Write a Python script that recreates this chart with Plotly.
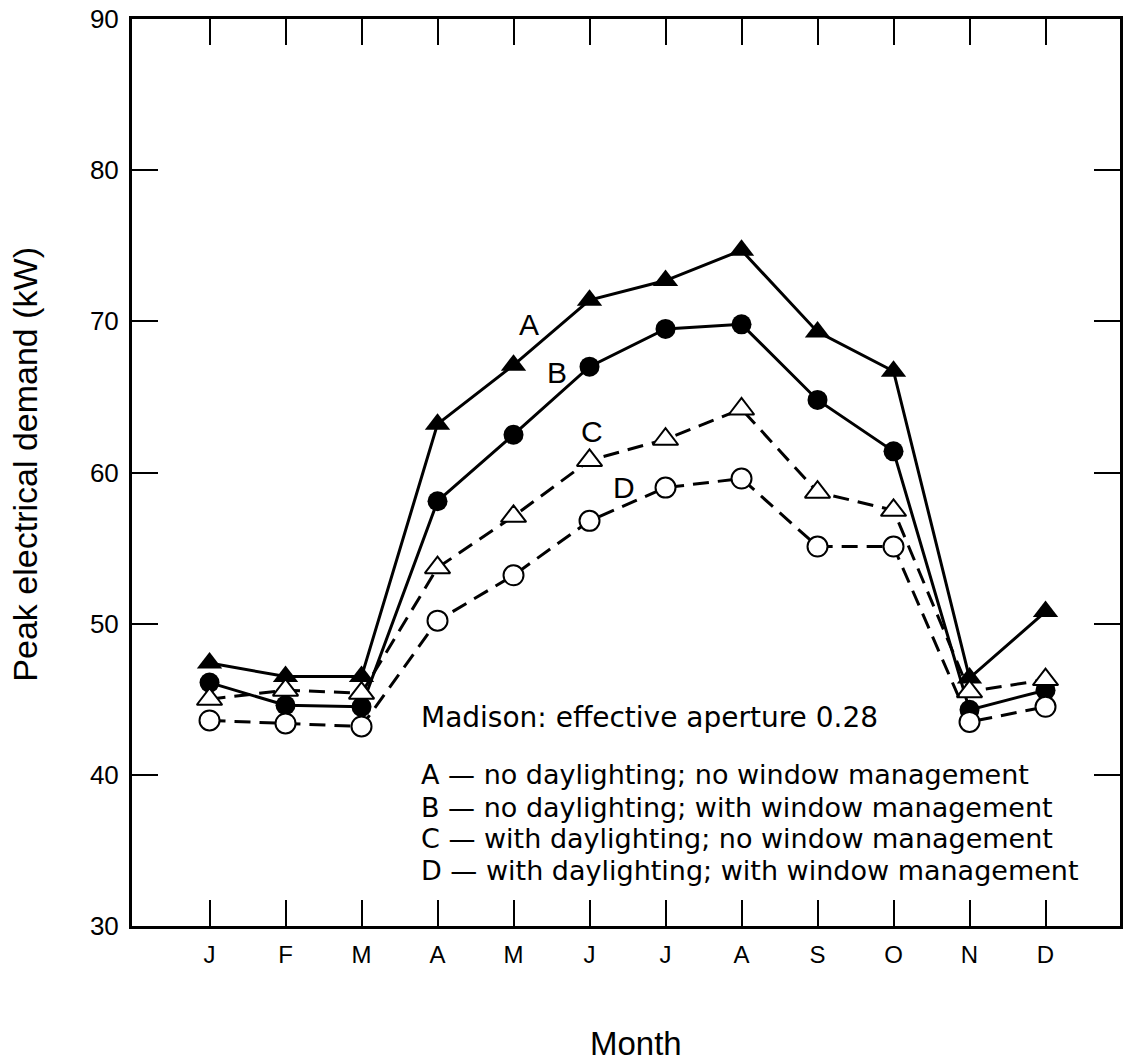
import plotly.graph_objects as go

# Monthly peak electrical demand (kW) for four building-control cases
months = ["J", "F", "M", "A", "M", "J", "J", "A", "S", "O", "N", "D"]
month_pos = list(range(1, 13))

case_a = [47.4, 46.5, 46.5, 63.2, 67.1, 71.4, 72.7, 74.7, 69.3, 66.7, 46.4, 50.8]
case_b = [46.1, 44.6, 44.5, 58.1, 62.5, 67.0, 69.5, 69.8, 64.8, 61.4, 44.3, 45.6]
case_c = [45.0, 45.6, 45.4, 53.7, 57.1, 60.8, 62.2, 64.2, 58.7, 57.5, 45.5, 46.3]
case_d = [43.6, 43.4, 43.2, 50.2, 53.2, 56.8, 59.0, 59.6, 55.1, 55.1, 43.5, 44.5]

y_ticks = [30, 40, 50, 60, 70, 80, 90]

case_keys = ["A", "B", "C", "D"]
case_desc = [
    "no daylighting; no window management",
    "no daylighting; with window management",
    "with daylighting; no window management",
    "with daylighting; with window management",
]

FONT = "Liberation Sans, Arial, Helvetica, sans-serif"
KEY_FONT = "DejaVu Sans, Liberation Sans, Arial, sans-serif"
INK = "black"

fig = go.Figure()

styles = [
    (case_a, "solid", dict(symbol="triangle-up", size=22, color=INK)),
    (case_b, "solid", dict(symbol="circle", size=20, color=INK)),
    (case_c, "16px,9px", dict(symbol="triangle-up", size=22, color="white",
                              line=dict(color=INK, width=2))),
    (case_d, "16px,9px", dict(symbol="circle", size=20, color="white",
                              line=dict(color=INK, width=2))),
]
for key, (vals, dash, marker) in zip(case_keys, styles):
    fig.add_trace(go.Scatter(
        x=month_pos, y=vals, mode="lines+markers", name=key,
        line=dict(color=INK, width=3, dash=dash),
        marker=marker, showlegend=False, hoverinfo="x+y",
    ))

# Curve letters placed beside each curve
letter_pos = [(5.20, 69.8), (5.57, 66.6), (6.03, 62.7), (6.45, 59.0)]
for key, (lx, ly) in zip(case_keys, letter_pos):
    fig.add_annotation(x=lx, y=ly, xref="x", yref="y", text=key,
                       showarrow=False, font=dict(family=FONT, size=30, color=INK))

# Key text block
fig.add_annotation(x=3.76, y=43.8, xref="x", yref="y", xanchor="left", yanchor="middle",
                   text="Madison: effective aperture 0.28", showarrow=False,
                   font=dict(family=KEY_FONT, size=28, color=INK))
key_y = [40.0, 37.87, 35.76, 33.64]
for key, desc, ky in zip(case_keys, case_desc, key_y):
    fig.add_annotation(x=3.76, y=ky, xref="x", yref="y", xanchor="left", yanchor="middle",
                       text=f"{key} \u2014 {desc}", showarrow=False,
                       font=dict(family=KEY_FONT, size=27, color=INK))

# Axis titles
fig.add_annotation(x=-0.108, y=0.509, xref="paper", yref="paper", textangle=-90,
                   xanchor="center", yanchor="middle",
                   text="Peak electrical demand (kW)", showarrow=False,
                   font=dict(family=FONT, size=34, color=INK))
fig.add_annotation(x=0.51, y=-0.129, xref="paper", yref="paper",
                   xanchor="center", yanchor="middle",
                   text="Month", showarrow=False,
                   font=dict(family=FONT, size=33, color=INK))

fig.update_xaxes(
    range=[-0.02, 12.98], tickmode="array", tickvals=month_pos, ticktext=months,
    ticks="inside", ticklen=26, tickwidth=2, tickcolor=INK,
    showline=True, linewidth=3, linecolor=INK, mirror="ticks",
    showgrid=False, zeroline=False, ticklabelstandoff=5,
    tickfont=dict(family=FONT, size=24, color=INK),
)
fig.update_yaxes(
    range=[30, 90], tickmode="array", tickvals=y_ticks,
    ticks="inside", ticklen=26, tickwidth=2, tickcolor=INK,
    showline=True, linewidth=3, linecolor=INK, mirror="ticks",
    showgrid=False, zeroline=False, ticklabelstandoff=5,
    tickfont=dict(family=FONT, size=26, color=INK),
)
fig.update_layout(
    width=1126, height=1062,
    margin=dict(l=132, r=3, t=19, b=136),
    paper_bgcolor="white", plot_bgcolor="white",
    font=dict(family=FONT, color=INK),
)

fig.write_html("out.html")
